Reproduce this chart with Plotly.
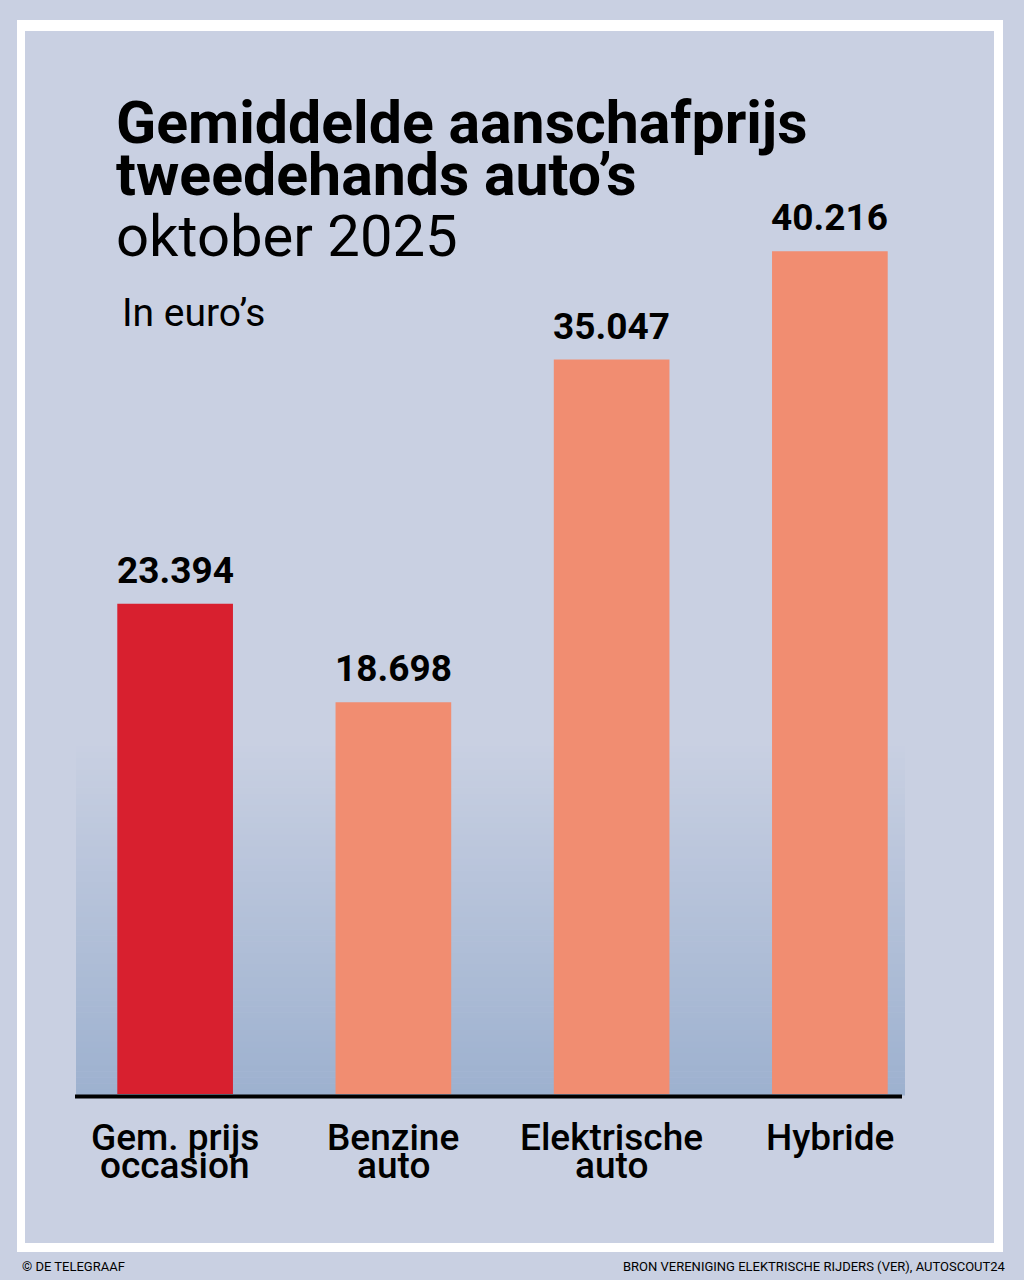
import plotly.graph_objects as go

# Datos: gemiddelde aanschafprijs tweedehands auto's, oktober 2025 (euro's)
categorieen = ["Gem. prijs\noccasion", "Benzine\nauto", "Elektrische\nauto", "Hybride"]
prijzen = [23394, 18698, 35047, 40216]
kleuren = ["#d8202f", "#f18d71", "#f18d71", "#f18d71"]

titel_regels = ["Gemiddelde aanschafprijs", "tweedehands auto’s"]
ondertitel = "oktober 2025"
eenheid = "In euro’s"
copyright_tekst = "© DE TELEGRAAF"
bron_tekst = "BRON VERENIGING ELEKTRISCHE RIJDERS (VER), AUTOSCOUT24"

# Afmetingen (pixels); de pagina heeft 8px body-marge, dus alles 8px terug
OFF = 8
W, H = 1024 - OFF, 1280 - OFF
L, R, T, B = 58, 85, 143, 186
pw, ph = W - L - R, H - T - B

BG = "#c9d0e2"
FONT = "Roboto, Arial, sans-serif"


def px(x):
    # pixel x in referentie -> paper x
    return (x - OFF - L) / pw


def py(y):
    # pixel y in referentie (van boven) -> paper y
    return (H - B - (y - OFF)) / ph


def mix(c1, c2, t):
    a = [int(c1[i:i + 2], 16) for i in (1, 3, 5)]
    b = [int(c2[i:i + 2], 16) for i in (1, 3, 5)]
    return "#%02x%02x%02x" % tuple(round(a[k] + (b[k] - a[k]) * t) for k in range(3))


fig = go.Figure()

fig.add_trace(go.Bar(
    x=list(range(len(prijzen))), y=prijzen,
    marker=dict(color=kleuren, line=dict(width=0)),
    width=0.53, hoverinfo="skip", showlegend=False,
))

shapes = []
# witte kader en binnenpaneel
shapes.append(dict(type="rect", xref="paper", yref="paper", layer="below",
                   x0=px(17), x1=px(1003), y0=py(1252), y1=py(20),
                   fillcolor="white", line=dict(width=0)))
shapes.append(dict(type="rect", xref="paper", yref="paper", layer="below",
                   x0=px(25), x1=px(994), y0=py(1243), y1=py(31),
                   fillcolor=BG, line=dict(width=0)))
# verloop achter de staven
n = 60
top, bot = 740, 1095
for i in range(n):
    y0 = top + (bot - top) * i / n
    y1 = top + (bot - top) * (i + 1) / n
    shapes.append(dict(type="rect", xref="paper", yref="paper", layer="below",
                       x0=px(76), x1=px(905), y0=py(y1 + 0.5), y1=py(y0),
                       fillcolor=mix(BG, "#9db1cf", (i + 0.5) / n), line=dict(width=0)))
# basislijn
shapes.append(dict(type="line", xref="paper", yref="paper", layer="above",
                   x0=px(75), x1=px(902), y0=py(1096.5), y1=py(1096.5),
                   line=dict(color="black", width=4)))

ann = []
# titel
ann.append(dict(text="<b>%s</b>" % titel_regels[0], x=px(114), y=py(122),
                font=dict(family=FONT, size=59, color="black")))
ann.append(dict(text="<b>%s</b>" % titel_regels[1], x=px(114), y=py(175),
                font=dict(family=FONT, size=59, color="black")))
ann.append(dict(text=ondertitel, x=px(114), y=py(236),
                font=dict(family=FONT, size=58, color="black")))
ann.append(dict(text=eenheid, x=px(120), y=py(313),
                font=dict(family=FONT, size=39, color="black")))
ann.append(dict(text=copyright_tekst, x=px(20), y=py(1266),
                font=dict(family=FONT, size=13, color="black")))
ann.append(dict(text=bron_tekst, x=px(1008), y=py(1266), xanchor="right",
                font=dict(family=FONT, size=13, color="black")))
for a in ann:
    a.update(xref="paper", yref="paper", showarrow=False, yanchor="middle")
    a.setdefault("xanchor", "left")

# waarden boven de staven en categorienamen eronder
for i, (cat, v) in enumerate(zip(categorieen, prijzen)):
    ann.append(dict(text="<b>%s</b>" % f"{v:,}".replace(",", "."), x=i, y=v,
                    xref="x", yref="y", showarrow=False, yanchor="bottom",
                    yshift=10, font=dict(family=FONT, size=37, color="black")))
    for j, regel in enumerate(cat.split("\n")):
        ann.append(dict(text=regel, x=i, y=0, xref="x", yref="y",
                        showarrow=False, yanchor="middle", yshift=-43 - 28 * j,
                        font=dict(family=FONT, size=37, color="black", weight=500)))

fig.update_layout(
    width=W, height=H,
    margin=dict(l=L, r=R, t=T, b=B, pad=0),
    paper_bgcolor=BG, plot_bgcolor="rgba(0,0,0,0)",
    shapes=shapes, annotations=ann,
    showlegend=False,
    xaxis=dict(range=[-0.5, 3.5], visible=False, fixedrange=True),
    yaxis=dict(range=[0, 45000], visible=False, fixedrange=True),
)

fig.write_html("out.html", post_script="document.body.style.background='%s';" % BG)
